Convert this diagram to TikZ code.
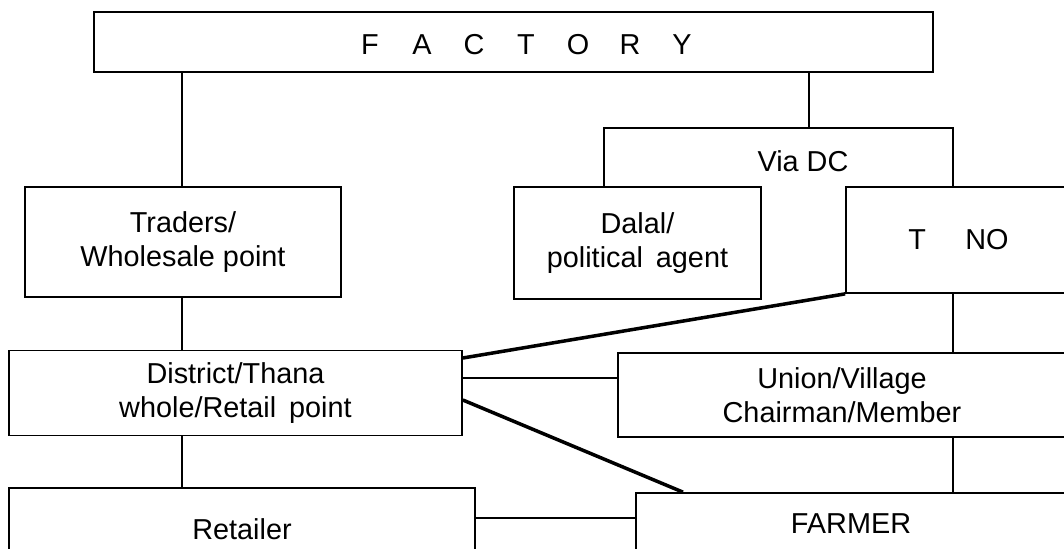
\documentclass[tikz,border=0pt]{standalone}
\usepackage{fontspec}
\setmainfont{Liberation Sans}
\begin{document}
\begin{tikzpicture}[x=0.025cm,y=-0.025cm,
  txt/.style={font=\fontsize{20.5}{24}\selectfont},
  box/.style={draw, rectangle, line width=1.2pt, inner sep=0pt, align=center, txt},
  sz/.style 2 args={minimum width=#1*0.025cm, minimum height=#2*0.025cm},
  lbl/.style={inner sep=0pt, align=center, txt},
  link/.style={line width=1.2pt},
  heavy/.style={line width=2.5pt}]
% page frame
\clip (0,0) rectangle (1064,548);
\fill[white] (0,0) rectangle (1064,548);

% boxes
\node[box, line width=2.1pt, sz={839}{60}] (factory) at (513.5,42) {};
\node[lbl] (factorytext) at (526,45)
  {\makebox[1.3cm]{F}\makebox[1.3cm]{A}\makebox[1.3cm]{C}\makebox[1.3cm]{T}%
   \makebox[1.3cm]{O}\makebox[1.3cm]{R}\makebox[1.3cm]{Y}};
\node[box, sz={316}{110}] (traders) at (183,242) {Traders/\\Wholesale point};
\node[box, sz={247}{112}] (dalal) at (637.5,243) {Dalal/\\political\hspace{0.45em}agent};
\node[box, sz={225}{106}] (tno) at (958.5,240) {T\hspace{28pt}NO};
\node[lbl] (viadc) at (803,161) {Via DC};
\node[box, sz={453}{85}] (district) at (235.5,393) {District/Thana\\whole/Retail\hspace{0.45em}point};
\node[box, sz={448}{84}] (union) at (842,395) {Union/Village\\Chairman/Member};
\node[box, sz={466}{82}] (retailer) at (242,529) {Retailer};
\node[box, sz={430}{62}] (farmer) at (851,524) {FARMER};

% guide positions for the connectors
\coordinate (spine) at (182,0);
\coordinate (vtop) at (809,0);
\coordinate (fl) at (604,128);
\coordinate (fr) at (953,128);
\coordinate (fx) at (683,0);
\coordinate (lvA) at (0,358);
\coordinate (lvB) at (0,378);
\coordinate (lvC) at (0,400);
\coordinate (lvD) at (0,518);

% left branch
\draw[link] (factory.south -| spine) -- (traders.north -| spine);
\draw[link] (traders.south -| spine) -- (district.north -| spine);
\draw[link] (district.south -| spine) -- (retailer.north -| spine);

% right branch via DC
\draw[link] (factory.south -| vtop) -- (fl -| vtop);
\draw[link] (dalal.north -| fl) -- (fl) -- (fr) -- (tno.north -| fr);
\draw[link] (tno.south -| fr) -- (union.north -| fr);
\draw[link] (union.south -| fr) -- (farmer.north -| fr);

% cross links
\draw[heavy] (district.east |- lvA) -- (tno.south west);
\draw[link] (district.east |- lvB) -- (union.west |- lvB);
\draw[heavy] (district.east |- lvC) -- (farmer.north -| fx);
\draw[link] (retailer.east |- lvD) -- (farmer.west |- lvD);
\end{tikzpicture}
\end{document}
